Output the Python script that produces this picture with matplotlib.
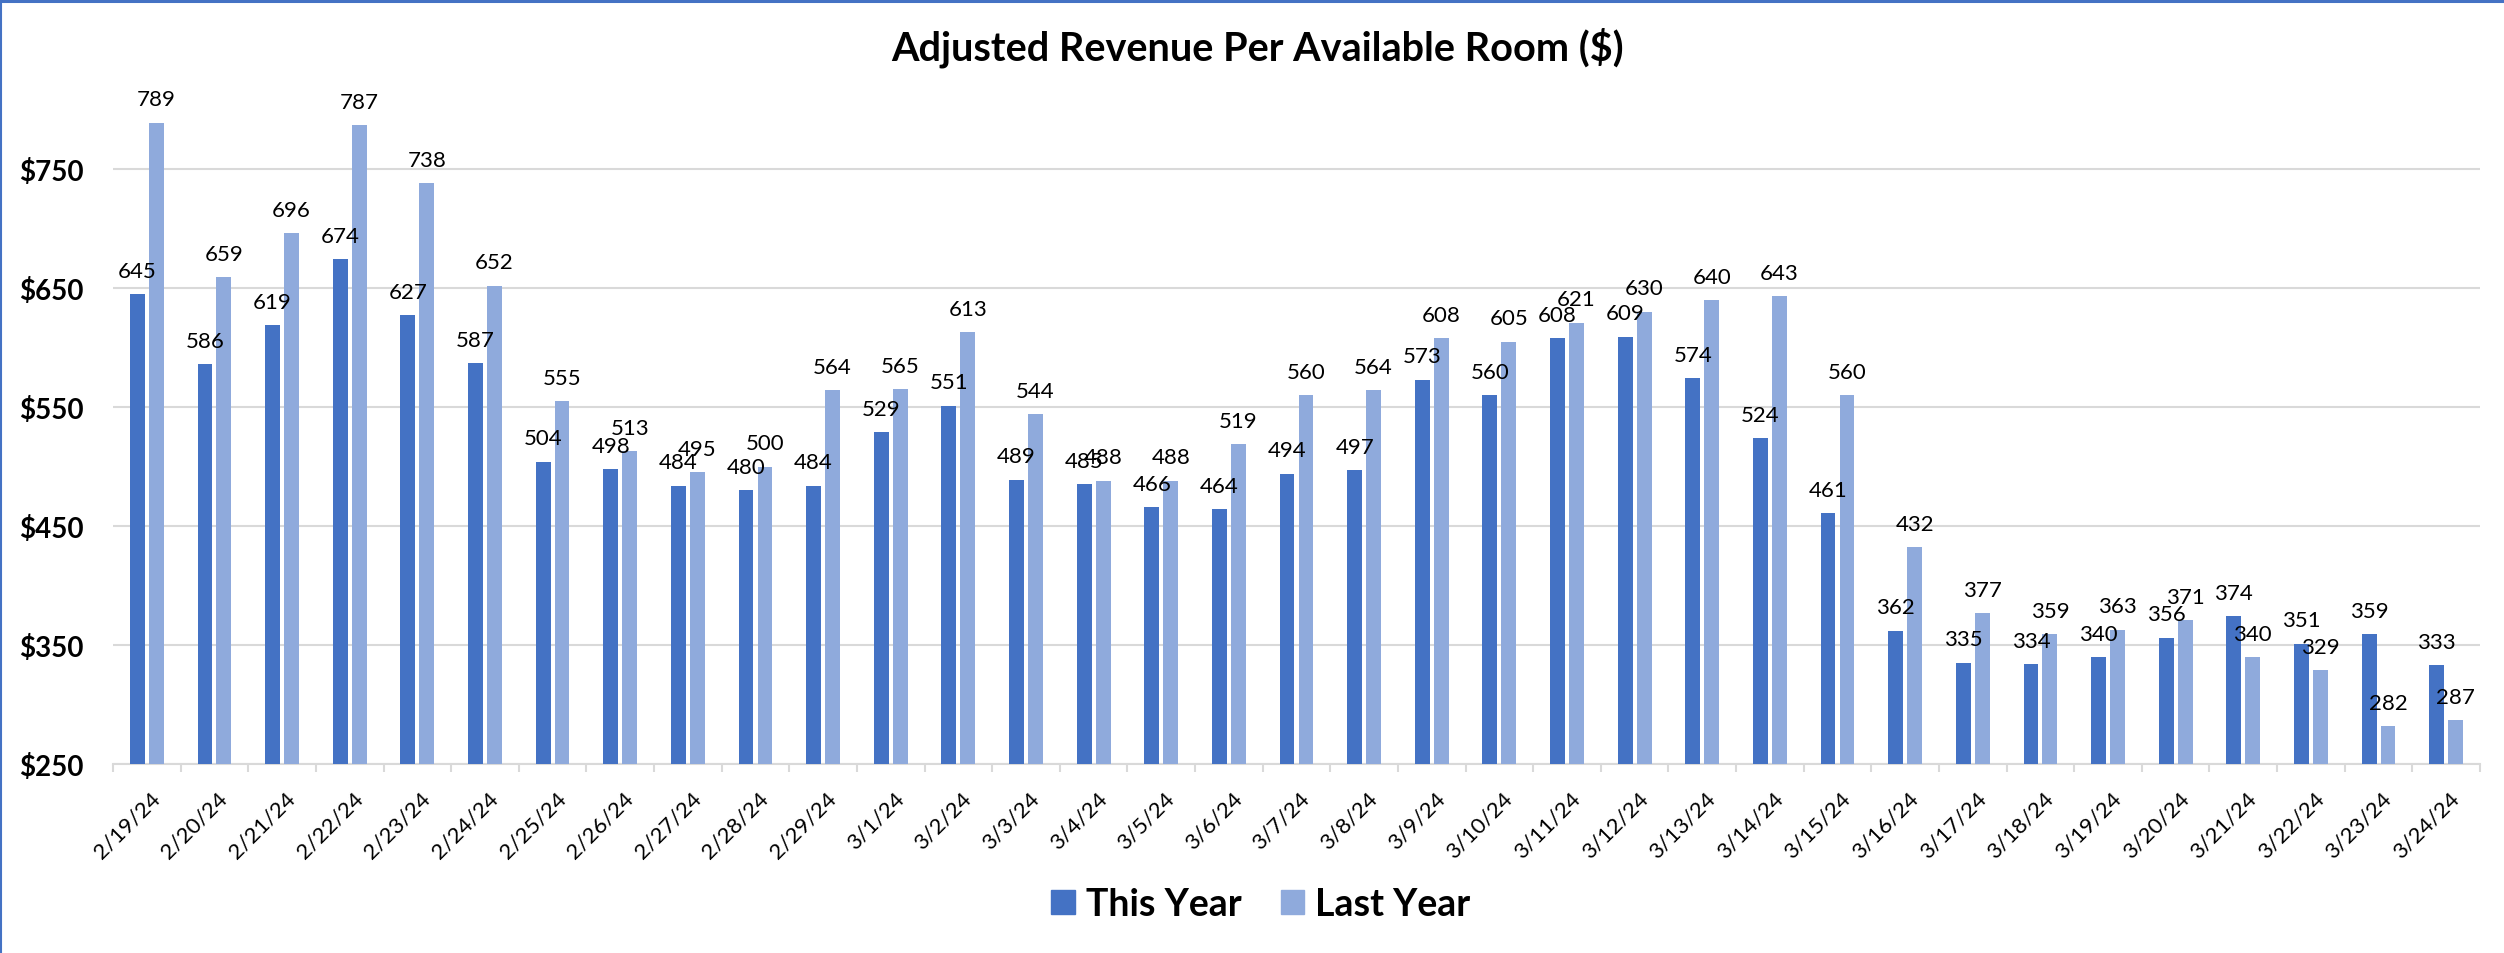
import numpy as np
import matplotlib
matplotlib.use("Agg")
import matplotlib.pyplot as plt
from matplotlib.lines import Line2D
from matplotlib.patches import Patch
from matplotlib.transforms import ScaledTranslation

plt.rcParams['font.family'] = ['Lato', 'DejaVu Sans']

dates = ['2/19/24', '2/20/24', '2/21/24', '2/22/24', '2/23/24', '2/24/24', '2/25/24',
         '2/26/24', '2/27/24', '2/28/24', '2/29/24', '3/1/24', '3/2/24', '3/3/24',
         '3/4/24', '3/5/24', '3/6/24', '3/7/24', '3/8/24', '3/9/24', '3/10/24',
         '3/11/24', '3/12/24', '3/13/24', '3/14/24', '3/15/24', '3/16/24', '3/17/24',
         '3/18/24', '3/19/24', '3/20/24', '3/21/24', '3/22/24', '3/23/24', '3/24/24']
this_year = [645, 586, 619, 674, 627, 587, 504, 498, 484, 480, 484, 529, 551, 489,
             485, 466, 464, 494, 497, 573, 560, 608, 609, 574, 524, 461, 362, 335,
             334, 340, 356, 374, 351, 359, 333]
last_year = [789, 659, 696, 787, 738, 652, 555, 513, 495, 500, 564, 565, 613, 544,
             488, 488, 519, 560, 564, 608, 605, 621, 630, 640, 643, 560, 432, 377,
             359, 363, 371, 340, 329, 282, 287]
yticks = [250, 350, 450, 550, 650, 750]

dark = '#4472C4'
light = '#8FAADC'
grid_col = '#D9D9D9'

W, H = 2504, 954
fig = plt.figure(figsize=(W / 100, H / 100), dpi=100)
ax = fig.add_axes([113 / W, 1 - 765 / H, (2480 - 113) / W, (765 - 110.5) / H])

x = np.arange(len(dates))
ax.bar(x - 0.14, this_year, width=0.22, color=dark, zorder=3)
ax.bar(x + 0.14, last_year, width=0.22, color=light, zorder=3)

for xi, v in zip(x, this_year):
    ax.annotate(str(v), (xi - 0.14, v), xytext=(0, 12.5), textcoords='offset points',
                ha='center', va='baseline', fontsize=16, annotation_clip=False, zorder=4)
for xi, v in zip(x, last_year):
    ax.annotate(str(v), (xi + 0.14, v), xytext=(0, 12.5), textcoords='offset points',
                ha='center', va='baseline', fontsize=16, annotation_clip=False, zorder=4)

ax.set_xlim(-0.5, len(dates) - 0.5)
ax.set_ylim(250, 800)
ax.set_yticks(yticks)
ax.set_yticklabels(['$' + str(t) for t in yticks], fontsize=20, fontweight='bold')
ax.tick_params(axis='y', length=0, pad=21)
ax.yaxis.grid(True, color=grid_col, linewidth=1.5, zorder=0)
ax.set_axisbelow(True)

for s in ['top', 'right', 'left']:
    ax.spines[s].set_visible(False)
ax.spines['bottom'].set_color(grid_col)
ax.spines['bottom'].set_linewidth(1.5)

ax.set_xticks(x)
ax.set_xticklabels(dates, rotation=45, ha='right', va='center',
                   rotation_mode='anchor', fontsize=16)
ax.set_xticks(np.arange(-0.5, len(dates)), minor=True)
ax.tick_params(axis='x', which='major', length=0, pad=22)
ax.tick_params(axis='x', which='minor', length=5.8, width=1.5, color=grid_col)
shift = ScaledTranslation(10 / 100, 0, fig.dpi_scale_trans)
for lbl in ax.get_xticklabels():
    lbl.set_transform(lbl.get_transform() + shift)

fig.text(1258 / W, 1 - 48 / H, 'Adjusted Revenue Per Available Room ($)',
         ha='center', va='center', fontsize=28.5, fontweight='bold')

handles = [Patch(color=dark, label='This Year'), Patch(color=light, label='Last Year')]
fig.legend(handles=handles, loc='center', bbox_to_anchor=(1261 / W, 1 - 905 / H),
           ncol=2, frameon=False, prop={'size': 27, 'weight': 'bold'},
           handlelength=0.62, handleheight=0.62, handletextpad=0.3, columnspacing=1.05)

# blue frame on top and left
fig.add_artist(Line2D([0, 1], [1 - 1.5 / H, 1 - 1.5 / H], transform=fig.transFigure,
                      color=dark, linewidth=2.2))
fig.add_artist(Line2D([1 / W, 1 / W], [0, 1], transform=fig.transFigure,
                      color=dark, linewidth=1.5))

fig.savefig('out.png', dpi=100)
